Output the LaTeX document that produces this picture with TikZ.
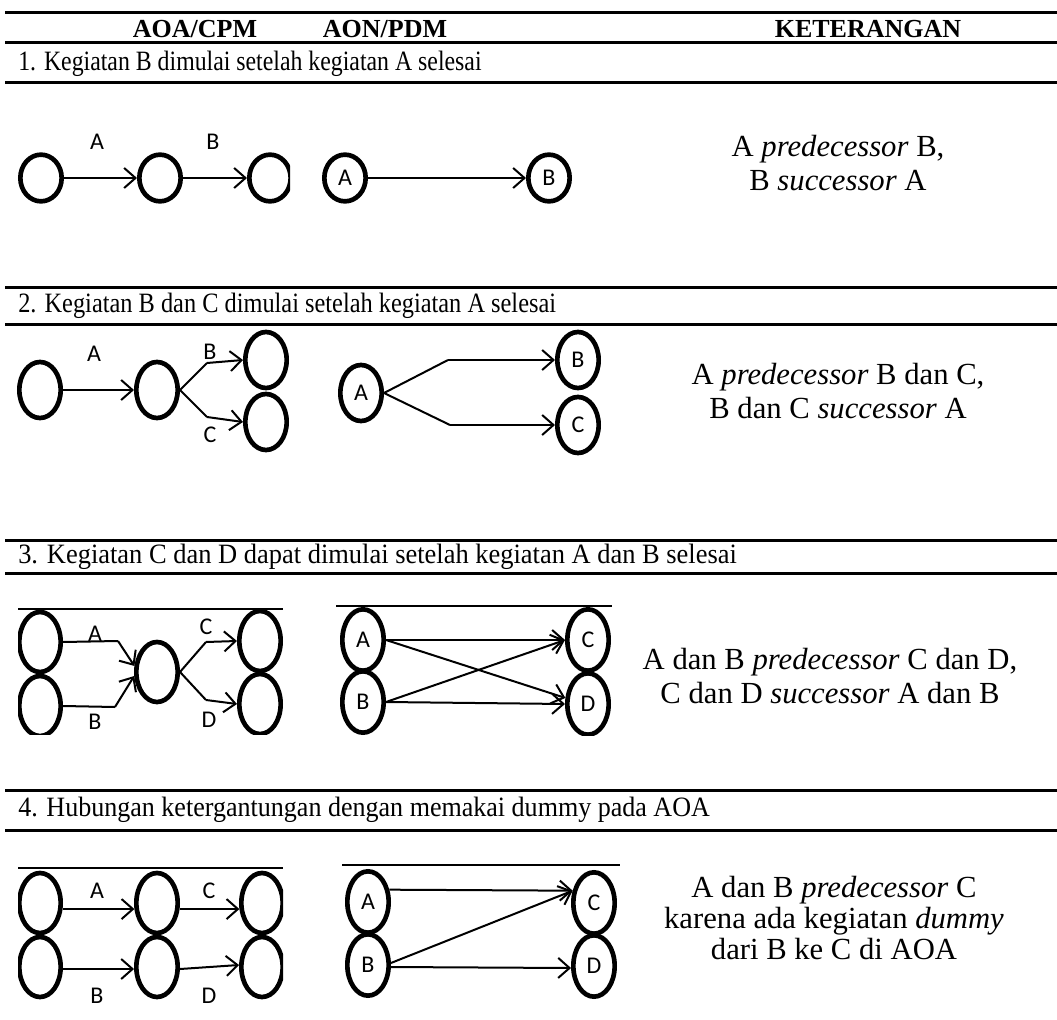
\documentclass[tikz,border=0pt]{standalone}
\usepackage{fontspec}
\setmainfont{Liberation Serif}
\newfontfamily\lblfont{Carlito}
\usetikzlibrary{arrows.meta,shapes.geometric}
\begin{document}
\begin{tikzpicture}[x=0.75pt,y=-0.75pt,
  ev/.style={ellipse,draw,line width=3.5pt,minimum width=31pt,minimum height=35pt,inner sep=0pt,font=\lblfont\fontsize{18}{18}\selectfont},
  evtall/.style={ev,minimum width=31pt,minimum height=42pt},
  act/.style={line width=1.5pt,-{Straight Barb[length=8.5pt,width=15pt]}},
  seg/.style={line width=1.5pt},
  hline/.style={line width=2.25pt},
  shortline/.style={line width=1.5pt},
  elab/.style={font=\lblfont\fontsize{18}{18}\selectfont,inner sep=0pt},
  hdr/.style={font=\bfseries\fontsize{19.5}{20}\selectfont,inner sep=0pt},
  sechead/.style={font=\fontsize{21}{22}\selectfont,anchor=west,inner sep=0pt},
  keter/.style={font=\fontsize{23}{25}\selectfont,align=center,inner sep=0pt}]
\path[use as bounding box] (0,0) rectangle (1057,1020);

% rules
\draw[hline] (5,13) -- (1057,13);
\draw[hline] (5,43) -- (1057,43);
\draw[hline] (5,83) -- (1057,83);
\draw[hline] (5,287) -- (1057,287);
\draw[hline] (5,324) -- (1057,324);
\draw[hline] (5,540) -- (1057,540);
\draw[hline] (5,573) -- (1057,573);
\draw[hline] (5,790) -- (1057,790);
\draw[hline] (5,830) -- (1057,830);

% headers
\node[hdr] (h1) at (195,29) {AOA/CPM};
\node[hdr] (h2) at (385,29) {AON/PDM};
\node[hdr] (h3) at (868,29) {KETERANGAN};

\node[sechead] (t1) at (18,64) {\scalebox{0.85}[1]{1. Kegiatan B dimulai setelah kegiatan A selesai}};
\node[sechead] (t2) at (18,306) {\scalebox{0.87}[1]{2. Kegiatan B dan C dimulai setelah kegiatan A selesai}};
\node[sechead] (t3) at (18,557) {\scalebox{0.945}[1]{3. Kegiatan C dan D dapat dimulai setelah kegiatan A dan B selesai}};
\node[sechead] (t4) at (18,810) {\scalebox{0.93}[1]{4. Hubungan ketergantungan dengan memakai dummy pada AOA}};

% ---------- section 1 ----------
\begin{scope}
  \clip (0,90) rectangle (290,280);
  \node[ev] (s1a) at (41,178) {};
  \node[ev] (s1b) at (160,178) {};
  \node[ev] (s1c) at (270,178) {};
  \draw[act] (s1a.east) -- (s1b.west);
  \draw[act] (s1b.east) -- (s1c.west);
\end{scope}
\node[elab] (s1la) at (97,142) {A};
\node[elab] (s1lb) at (213,142) {B};
\node[ev] (s1A) at (345,178) {A};
\node[ev] (s1B) at (549,178) {B};
\draw[act] (s1A) -- (s1B);
\node[keter] (k1) at (838,163) {A \textit{predecessor} B,\\B \textit{successor} A};

% ---------- section 2 ----------
\node[evtall] (s2a) at (40,390) {};
\node[evtall] (s2b) at (157,390) {};
\node[evtall] (s2c) at (266,360) {};
\node[evtall] (s2d) at (266,422) {};
\coordinate (s2u) at (207,363);
\coordinate (s2l) at (207,417);
\draw[act] (s2a.east) -- (s2b.west);
\draw[seg] (s2b.east) -- (s2u);
\draw[act] (s2u) -- (s2c.west);
\draw[seg] (s2b.east) -- (s2l);
\draw[act] (s2l) -- (s2d.west);
\node[elab] (s2la) at (94,354) {A};
\node[elab] (s2lb) at (210,352) {B};
\node[elab] (s2lc) at (210,435) {C};

\node[evtall] (s2A) at (361,393) {A};
\node[evtall] (s2B) at (578,360) {B};
\node[evtall] (s2C) at (578,425) {C};
\coordinate (s2U) at (448,360);
\coordinate (s2L) at (450,425);
\draw[seg] (s2A.east) -- (s2U);
\draw[act] (s2U) -- (s2B.west);
\draw[seg] (s2A.east) -- (s2L);
\draw[act] (s2L) -- (s2C.west);
\node[keter] (k2) at (838,391) {A \textit{predecessor} B dan C,\\B dan C \textit{successor} A};

% ---------- section 3 ----------
\begin{scope}
  \clip (18,609) rectangle (283,734);
  \node[evtall,minimum height=45pt] (s3a) at (40,642) {};
  \node[evtall,minimum height=45pt] (s3b) at (40,706) {};
  \node[evtall,minimum height=45pt] (s3m) at (157,672) {};
  \node[evtall,minimum height=45pt] (s3c) at (260,641) {};
  \node[evtall,minimum height=45pt] (s3d) at (260,704) {};
  \coordinate (s3p) at (118,641);
  \coordinate (s3q) at (115,707);
  \coordinate (s3r) at (206,642);
  \coordinate (s3s) at (206,700);
  \draw[seg] (s3a.east) -- (s3p);
  \draw[act] (s3p) -- (s3m.165);
  \draw[seg] (s3b.east) -- (s3q);
  \draw[act] (s3q) -- (s3m.190);
  \draw[seg] (s3m.east) -- (s3r);
  \draw[act] (s3r) -- (s3c.west);
  \draw[seg] (s3m.east) -- (s3s);
  \draw[act] (s3s) -- (s3d.west);
\end{scope}
\draw[shortline] (18,609) -- (283,609);
\node[elab,anchor=south] (s3la) at (95,642) {A};
\node[elab] (s3lb) at (95,722) {B};
\node[elab] (s3lc) at (206,627) {C};
\node[elab] (s3ld) at (209,720) {D};

\begin{scope}
  \clip (336,606) rectangle (612,735);
  \node[evtall,minimum height=46pt] (s3A) at (363,640) {A};
  \node[evtall,minimum height=46pt] (s3B) at (363,702) {B};
  \node[evtall,minimum height=46pt] (s3C) at (588,640) {C};
  \node[evtall,minimum height=46pt] (s3D) at (588,704) {D};
  \draw[act] (s3A.east) -- (s3C.west);
  \draw[act] (s3A.east) -- (s3D.165);
  \draw[act] (s3B.east) -- (s3C.west);
  \draw[act] (s3B.east) -- (s3D.west);
\end{scope}
\draw[shortline] (336,606) -- (612,606);
\node[keter] (k3) at (830,676) {A dan B \textit{predecessor} C dan D,\\C dan D \textit{successor} A dan B};

% ---------- section 4 ----------
\begin{scope}
  \clip (18,868) rectangle (283,1000);
  \node[evtall,minimum height=45pt] (s4a) at (40,903) {};
  \node[evtall,minimum height=45pt] (s4m) at (157,903) {};
  \node[evtall,minimum height=45pt] (s4c) at (262,903) {};
  \node[evtall,minimum height=45pt] (s4b) at (40,967) {};
  \node[evtall,minimum height=45pt] (s4n) at (157,967) {};
  \node[evtall,minimum height=45pt] (s4d) at (262,967) {};
  \draw[act] (s4a.-15) -- (s4m.195);
  \draw[act] (s4m.-15) -- (s4c.195);
  \draw[act] (s4b.-5) -- (s4n.185);
  \draw[act] (s4n.-5) -- (s4d.175);
  \draw[seg] (s4m.south) -- (s4n.north);
\end{scope}
\draw[shortline] (18,868) -- (283,868);
\node[elab,anchor=south] (s4la) at (97,899) {A};
\node[elab,anchor=south] (s4lc) at (209,899) {C};
\node[elab] (s4lb) at (97,996) {B};
\node[elab] (s4ld) at (209,996) {D};

\begin{scope}
  \clip (342,865) rectangle (620,1000);
  \node[evtall,minimum height=46pt] (s4A) at (368,902) {A};
  \node[evtall,minimum height=46pt] (s4B) at (368,965) {B};
  \node[evtall,minimum height=46pt] (s4C) at (594,903) {C};
  \node[evtall,minimum height=46pt] (s4D) at (594,966) {D};
  \draw[act] (s4A.30) -- (s4C.150);
  \draw[act] (s4B.5) -- (s4C.150);
  \draw[act] (s4B.-5) -- (s4D.185);
\end{scope}
\draw[shortline] (342,865) -- (620,865);
\node[keter,font=\fontsize{23}{23}\selectfont] (k4) at (834,918) {A dan B \textit{predecessor} C\\karena ada kegiatan \textit{dummy}\\dari B ke C di AOA};
\end{tikzpicture}
\end{document}
